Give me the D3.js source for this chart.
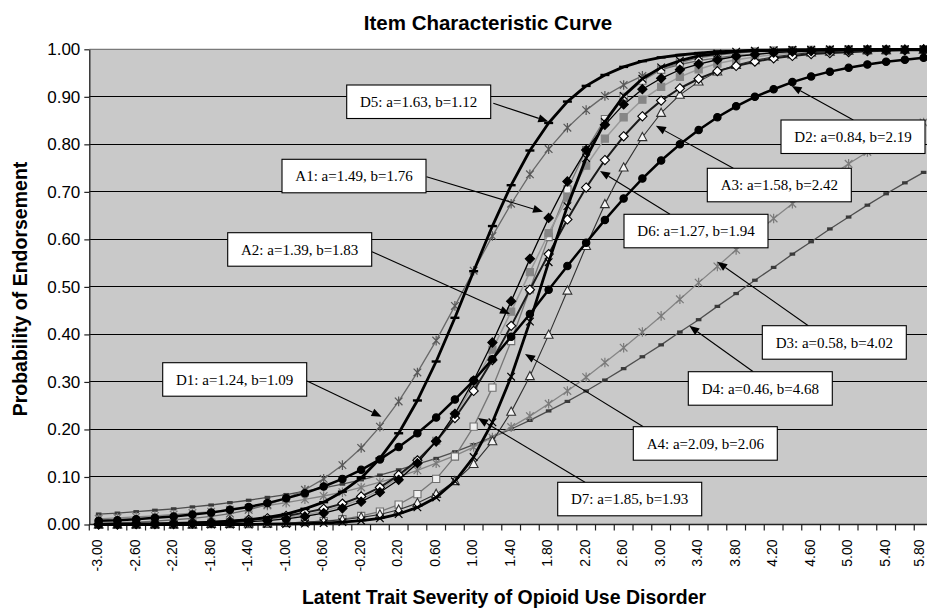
<!DOCTYPE html>
<html>
<head>
<meta charset="utf-8">
<script src="https://cdn.jsdelivr.net/npm/d3@7"></script>
<style>
  body { margin: 0; background: #fff; }
  svg { display: block; }
</style>
</head>
<body>
<svg id="chart" width="927" height="608"></svg>
<script>
// ---------------- DATA ----------------
const categories = ["-3.00","-2.80","-2.60","-2.40","-2.20","-2.00","-1.80","-1.60","-1.40","-1.20",
  "-1.00","-0.80","-0.60","-0.40","-0.20","0.00","0.20","0.40","0.60","0.80",
  "1.00","1.20","1.40","1.60","1.80","2.00","2.20","2.40","2.60","2.80",
  "3.00","3.20","3.40","3.60","3.80","4.00","4.20","4.40","4.60","4.80",
  "5.00","5.20","5.40","5.60","5.80"];
const xTickLabels = categories.filter((d, i) => i % 2 === 0);
const yTickValues = [0, 0.1, 0.2, 0.3, 0.4, 0.5, 0.6, 0.7, 0.8, 0.9, 1.0];

const D1 = [0.003,0.004,0.005,0.007,0.010,0.013,0.017,0.023,0.031,0.042,0.055,0.073,0.096,0.125,0.161,0.206,0.259,0.320,0.387,0.460,0.534,0.607,0.675,0.737,0.790,0.835,0.872,0.902,0.925,0.944,0.957,0.968,0.976,0.982,0.987,0.990,0.993,0.995,0.996,0.997,0.998,0.998,0.999,0.999,0.999];
const D2 = [0.008,0.009,0.011,0.014,0.017,0.021,0.025,0.031,0.037,0.045,0.055,0.066,0.080,0.096,0.115,0.137,0.163,0.192,0.225,0.263,0.303,0.348,0.395,0.443,0.494,0.544,0.593,0.641,0.686,0.728,0.766,0.800,0.830,0.857,0.880,0.900,0.916,0.931,0.943,0.953,0.961,0.968,0.974,0.978,0.982];
const D3 = [0.012,0.014,0.016,0.018,0.021,0.024,0.027,0.031,0.035,0.040,0.046,0.053,0.060,0.068,0.078,0.089,0.100,0.114,0.129,0.145,0.163,0.183,0.205,0.228,0.254,0.281,0.310,0.341,0.372,0.405,0.439,0.474,0.509,0.543,0.578,0.611,0.644,0.675,0.705,0.733,0.759,0.784,0.806,0.827,0.846];
const D4 = [0.022,0.024,0.027,0.030,0.033,0.037,0.041,0.046,0.051,0.057,0.063,0.070,0.077,0.085,0.094,0.104,0.115,0.127,0.139,0.153,0.168,0.184,0.201,0.219,0.239,0.259,0.281,0.304,0.328,0.353,0.378,0.405,0.431,0.459,0.486,0.514,0.541,0.569,0.595,0.622,0.647,0.672,0.696,0.719,0.741];
const D5 = [0.000,0.001,0.001,0.001,0.002,0.003,0.005,0.007,0.010,0.015,0.022,0.033,0.047,0.069,0.098,0.139,0.192,0.261,0.343,0.435,0.533,0.628,0.714,0.787,0.845,0.890,0.923,0.946,0.963,0.975,0.983,0.988,0.992,0.995,0.996,0.998,0.998,0.999,0.999,1.000,1.000,1.000,1.000,1.000,1.000];
const D6 = [0.001,0.001,0.002,0.002,0.003,0.004,0.005,0.007,0.010,0.013,0.018,0.025,0.033,0.044,0.059,0.078,0.104,0.135,0.175,0.224,0.281,0.346,0.418,0.494,0.569,0.642,0.709,0.767,0.817,0.859,0.892,0.918,0.938,0.954,0.965,0.974,0.981,0.986,0.990,0.992,0.994,0.996,0.997,0.998,0.998];
const D7 = [0.000,0.000,0.000,0.000,0.000,0.000,0.001,0.001,0.001,0.002,0.003,0.005,0.007,0.011,0.018,0.027,0.042,0.064,0.096,0.143,0.206,0.288,0.386,0.495,0.605,0.705,0.788,0.853,0.900,0.934,0.957,0.972,0.982,0.988,0.992,0.995,0.997,0.998,0.999,0.999,1.000,1.000,1.000,1.000,1.000];
const A1 = [0.000,0.000,0.001,0.001,0.001,0.002,0.003,0.004,0.006,0.008,0.012,0.017,0.024,0.034,0.048,0.068,0.094,0.129,0.175,0.233,0.303,0.383,0.470,0.559,0.645,0.722,0.788,0.841,0.884,0.916,0.939,0.957,0.969,0.978,0.985,0.989,0.993,0.995,0.996,0.997,0.998,0.999,0.999,0.999,1.000];
const A2 = [0.001,0.001,0.001,0.001,0.002,0.003,0.004,0.005,0.008,0.011,0.015,0.020,0.028,0.039,0.053,0.073,0.099,0.133,0.176,0.230,0.294,0.368,0.448,0.531,0.613,0.688,0.755,0.812,0.857,0.894,0.921,0.942,0.958,0.970,0.978,0.984,0.989,0.992,0.994,0.996,0.997,0.998,0.998,0.999,0.999];
const A3 = [0.000,0.000,0.000,0.000,0.000,0.000,0.001,0.001,0.002,0.002,0.003,0.005,0.007,0.010,0.015,0.021,0.031,0.045,0.064,0.091,0.127,0.175,0.237,0.312,0.399,0.492,0.586,0.674,0.751,0.815,0.866,0.904,0.932,0.953,0.967,0.977,0.984,0.989,0.993,0.995,0.997,0.998,0.998,0.999,0.999];
const A4 = [0.000,0.000,0.000,0.000,0.000,0.000,0.000,0.000,0.000,0.001,0.001,0.002,0.003,0.005,0.008,0.013,0.022,0.036,0.057,0.091,0.142,0.215,0.311,0.427,0.552,0.670,0.771,0.847,0.902,0.938,0.962,0.976,0.986,0.991,0.995,0.997,0.998,0.999,0.999,1.000,1.000,1.000,1.000,1.000,1.000];

const labelTexts = {
  D1: "D1: a=1.24, b=1.09", D2: "D2: a=0.84, b=2.19", D3: "D3: a=0.58, b=4.02",
  D4: "D4: a=0.46, b=4.68", D5: "D5: a=1.63, b=1.12", D6: "D6: a=1.27, b=1.94",
  D7: "D7: a=1.85, b=1.93", A1: "A1: a=1.49, b=1.76", A2: "A2: a=1.39, b=1.83",
  A3: "A3: a=1.58, b=2.42", A4: "A4: a=2.09, b=2.06"
};
// arrow tips in data units (x value, probability)
const labelTipX = { D5: 1.796, A1: 1.74, A2: 1.388, D1: 0.018, D2: 4.392, A3: 2.944, D6: 2.348, D3: 3.598, D4: 3.30, A4: 1.548, D7: 1.046 };
const labelTipY = { D5: 0.848, A1: 0.658, A2: 0.443, D1: 0.227, D2: 0.923, A3: 0.839, D6: 0.744, D3: 0.553, D4: 0.418, A4: 0.359, D7: 0.224 };

// ---------------- LAYOUT / STYLE ----------------
const W = 927, H = 608;
const plot = { left: 89.3, right: 933, top: 49.3, bottom: 524.5 };
const boxes = {   // label box position (pixels) and arrow start point
  D5: { x: 346.7, y: 85,    sx: 493.3, sy: 103.3 },
  A1: { x: 282,   y: 159.3, sx: 426.5, sy: 176.7 },
  A2: { x: 227.7, y: 232.7, sx: 372,   sy: 251.7 },
  D1: { x: 162.7, y: 362.7, sx: 307,   sy: 381 },
  D2: { x: 781,   y: 120,   sx: 853.3, sy: 120 },
  A3: { x: 707.3, y: 168.3, sx: 733.3, sy: 168.3 },
  D6: { x: 624,   y: 214.3, sx: 670,   sy: 214.3 },
  D3: { x: 762.3, y: 325.7, sx: 808.3, sy: 325.7 },
  D4: { x: 688.3, y: 371.7, sx: 753.3, sy: 371.7 },
  A4: { x: 633.3, y: 426.7, sx: 643.3, sy: 426.7 },
  D7: { x: 557.7, y: 482.3, sx: 585,   sy: 482.3 }
};
const boxW = 144, boxH = 33.5;

const series = [
  { name: "D4", values: D4, line: "#4e4e4e", lw: 1.3, marker: "rect",     fill: "#3a3a3a", stroke: "none" },
  { name: "D3", values: D3, line: "#858585", lw: 1.3, marker: "star",     fill: "none",    stroke: "#7a7a7a" },
  { name: "D1", values: D1, line: "#686868", lw: 1.3, marker: "star",     fill: "none",    stroke: "#585858" },
  { name: "D7", values: D7, line: "#777777", lw: 1.3, marker: "square",   fill: "#f0f0f0", stroke: "#707070" },
  { name: "A2", values: A2, line: "#9a9a9a", lw: 1.5, marker: "square",   fill: "#868686", stroke: "#868686" },
  { name: "A3", values: A3, line: "#303030", lw: 1.1, marker: "triangle", fill: "#f4f4f4", stroke: "#303030" },
  { name: "D6", values: D6, line: "#1a1a1a", lw: 2.0, marker: "diamond",  fill: "#ffffff", stroke: "#000" },
  { name: "A1", values: A1, line: "#000000", lw: 1.3, marker: "diamond",  fill: "#000",    stroke: "#000" },
  { name: "D2", values: D2, line: "#000000", lw: 2.5, marker: "circle",   fill: "#000",    stroke: "#000" },
  { name: "A4", values: A4, line: "#000000", lw: 2.8, marker: "x",        fill: "none",    stroke: "#000" },
  { name: "D5", values: D5, line: "#000000", lw: 2.8, marker: "dash",     fill: "none",    stroke: "#000" }
];

const markerPaths = {
  rect: "M-2.8,-1.6H2.8V1.6H-2.8Z",
  star: "M-3.8,-3.8L3.8,3.8M-3.8,3.8L3.8,-3.8M0,-4.8V4.8",
  square: "M-3.6,-3.6H3.6V3.6H-3.6Z",
  triangle: "M0,-4.8L4.4,3.4H-4.4Z",
  diamond: "M0,-4.6L4.6,0L0,4.6L-4.6,0Z",
  circle: "M3.7,0A3.7,3.7 0 1,1 -3.7,0A3.7,3.7 0 1,1 3.7,0Z",
  x: "M-3.8,-3.8L3.8,3.8M-3.8,3.8L3.8,-3.8",
  dash: "M-4.5,0H4.5"
};

const sansFont = "'Liberation Sans', Arial, Helvetica, sans-serif";
const serifFont = "'Liberation Serif', 'Times New Roman', serif";

// ---------------- DRAW ----------------
const svg = d3.select("#chart");
svg.append("rect").attr("width", W).attr("height", H).attr("fill", "#fff");

const x = d3.scaleBand().domain(categories).range([plot.left, plot.right]).padding(0);
const y = d3.scaleLinear().domain([0, 1]).range([plot.bottom, plot.top]);
const cx = c => x(c) + x.bandwidth() / 2;
const xVal = d3.scaleLinear().domain([-3, 5.8]).range([cx(categories[0]), cx(categories[categories.length - 1])]);

// plot background
svg.append("rect")
  .attr("x", plot.left).attr("y", plot.top)
  .attr("width", plot.right - plot.left).attr("height", plot.bottom - plot.top)
  .attr("fill", "#c9c9c9");

// gridlines
svg.append("g")
  .selectAll("line")
  .data(yTickValues.filter(v => v > 0 && v < 1))
  .join("line")
  .attr("x1", plot.left).attr("x2", plot.right)
  .attr("y1", d => y(d)).attr("y2", d => y(d))
  .attr("stroke", "#000").attr("stroke-width", 1)
  .attr("shape-rendering", "crispEdges");

// top border
svg.append("line")
  .attr("x1", plot.left).attr("x2", plot.right)
  .attr("y1", y(1)).attr("y2", y(1))
  .attr("stroke", "#7a7a7a").attr("stroke-width", 1.3);

// y axis
const yAxis = svg.append("g")
  .attr("transform", `translate(${plot.left},0)`)
  .call(d3.axisLeft(y).tickValues(yTickValues).tickFormat(d3.format(".2f")).tickSize(5).tickPadding(4).tickSizeOuter(0));
yAxis.select(".domain").attr("stroke", "#222").attr("stroke-width", 1.3);
yAxis.selectAll(".tick line").attr("stroke", "#222").attr("stroke-width", 1.2);
yAxis.selectAll("text")
  .attr("fill", "#000")
  .style("font-family", sansFont).style("font-size", "17px");

// x axis line and boundary ticks
svg.append("line")
  .attr("x1", plot.left).attr("x2", plot.right)
  .attr("y1", plot.bottom).attr("y2", plot.bottom)
  .attr("stroke", "#222").attr("stroke-width", 1.3);
svg.append("g")
  .selectAll("line")
  .data(categories)
  .join("line")
  .attr("x1", d => x(d)).attr("x2", d => x(d))
  .attr("y1", plot.bottom).attr("y2", plot.bottom + 6)
  .attr("stroke", "#222").attr("stroke-width", 1.2);

// x tick labels (rotated); the last one is nudged to stay inside the frame
const lastLabel = xTickLabels[xTickLabels.length - 1];
const xAxis = svg.append("g")
  .attr("transform", `translate(0,${plot.bottom})`)
  .call(d3.axisBottom(x).tickValues(xTickLabels).tickSize(0).tickPadding(0));
xAxis.select(".domain").remove();
xAxis.selectAll("text")
  .attr("x", -15).attr("y", d => d === lastLabel ? -4.5 : -1.5).attr("dy", "0.35em")
  .attr("transform", "rotate(-90)")
  .style("text-anchor", "end")
  .attr("fill", "#000")
  .style("font-family", sansFont).style("font-size", "14px");

// series
const lineGen = d3.line()
  .x((d, i) => cx(categories[i]))
  .y(d => y(d));

const seriesG = svg.append("g");
series.forEach(s => {
  const g = seriesG.append("g").attr("class", "series-" + s.name);
  g.append("path")
    .datum(s.values)
    .attr("d", lineGen)
    .attr("fill", "none")
    .attr("stroke", s.line)
    .attr("stroke-width", s.lw)
    .attr("stroke-linejoin", "round");
  const isStroked = ["star", "x", "dash"].includes(s.marker);
  g.selectAll("path.m")
    .data(s.values)
    .join("path")
    .attr("class", "m")
    .attr("transform", (d, i) => `translate(${cx(categories[i])},${y(d)})`)
    .attr("d", markerPaths[s.marker])
    .attr("fill", isStroked ? "none" : s.fill)
    .attr("stroke", s.stroke)
    .attr("stroke-width", s.marker === "dash" ? 2.4 : (isStroked ? 1.2 : 1.1));
});

// annotations
const annG = svg.append("g");
Object.keys(boxes).forEach(k => {
  const b = boxes[k];
  const tx = xVal(labelTipX[k]), ty = y(labelTipY[k]);
  const ang = Math.atan2(ty - b.sy, tx - b.sx);
  const hl = 10, hw = 4;
  const bx = tx - hl * Math.cos(ang), by = ty - hl * Math.sin(ang);
  annG.append("line")
    .attr("x1", b.sx).attr("y1", b.sy).attr("x2", bx).attr("y2", by)
    .attr("stroke", "#000").attr("stroke-width", 1.1);
  annG.append("path")
    .attr("d", `M${tx},${ty}L${bx + hw * Math.sin(ang)},${by - hw * Math.cos(ang)}L${bx - hw * Math.sin(ang)},${by + hw * Math.cos(ang)}Z`)
    .attr("fill", "#000");
  annG.append("rect")
    .attr("x", b.x).attr("y", b.y).attr("width", boxW).attr("height", boxH)
    .attr("fill", "#fff").attr("stroke", "#000").attr("stroke-width", 1.1);
  annG.append("text")
    .attr("x", b.x + boxW / 2).attr("y", b.y + boxH / 2).attr("dy", "0.35em")
    .attr("text-anchor", "middle")
    .style("font-family", serifFont).style("font-size", "15px")
    .text(labelTexts[k]);
});

// titles
svg.append("text")
  .attr("x", 488).attr("y", 29.5)
  .attr("text-anchor", "middle")
  .style("font-family", sansFont).style("font-size", "20.5px").style("font-weight", "bold")
  .text("Item Characteristic Curve");

svg.append("text")
  .attr("x", 504).attr("y", 604)
  .attr("text-anchor", "middle")
  .style("font-family", sansFont).style("font-size", "19.5px").style("font-weight", "bold")
  .text("Latent Trait Severity of Opioid Use Disorder");

svg.append("text")
  .attr("transform", "translate(27,289) rotate(-90)")
  .attr("text-anchor", "middle")
  .style("font-family", sansFont).style("font-size", "19.5px").style("font-weight", "bold")
  .text("Probability of Endorsement");
</script>
</body>
</html>
